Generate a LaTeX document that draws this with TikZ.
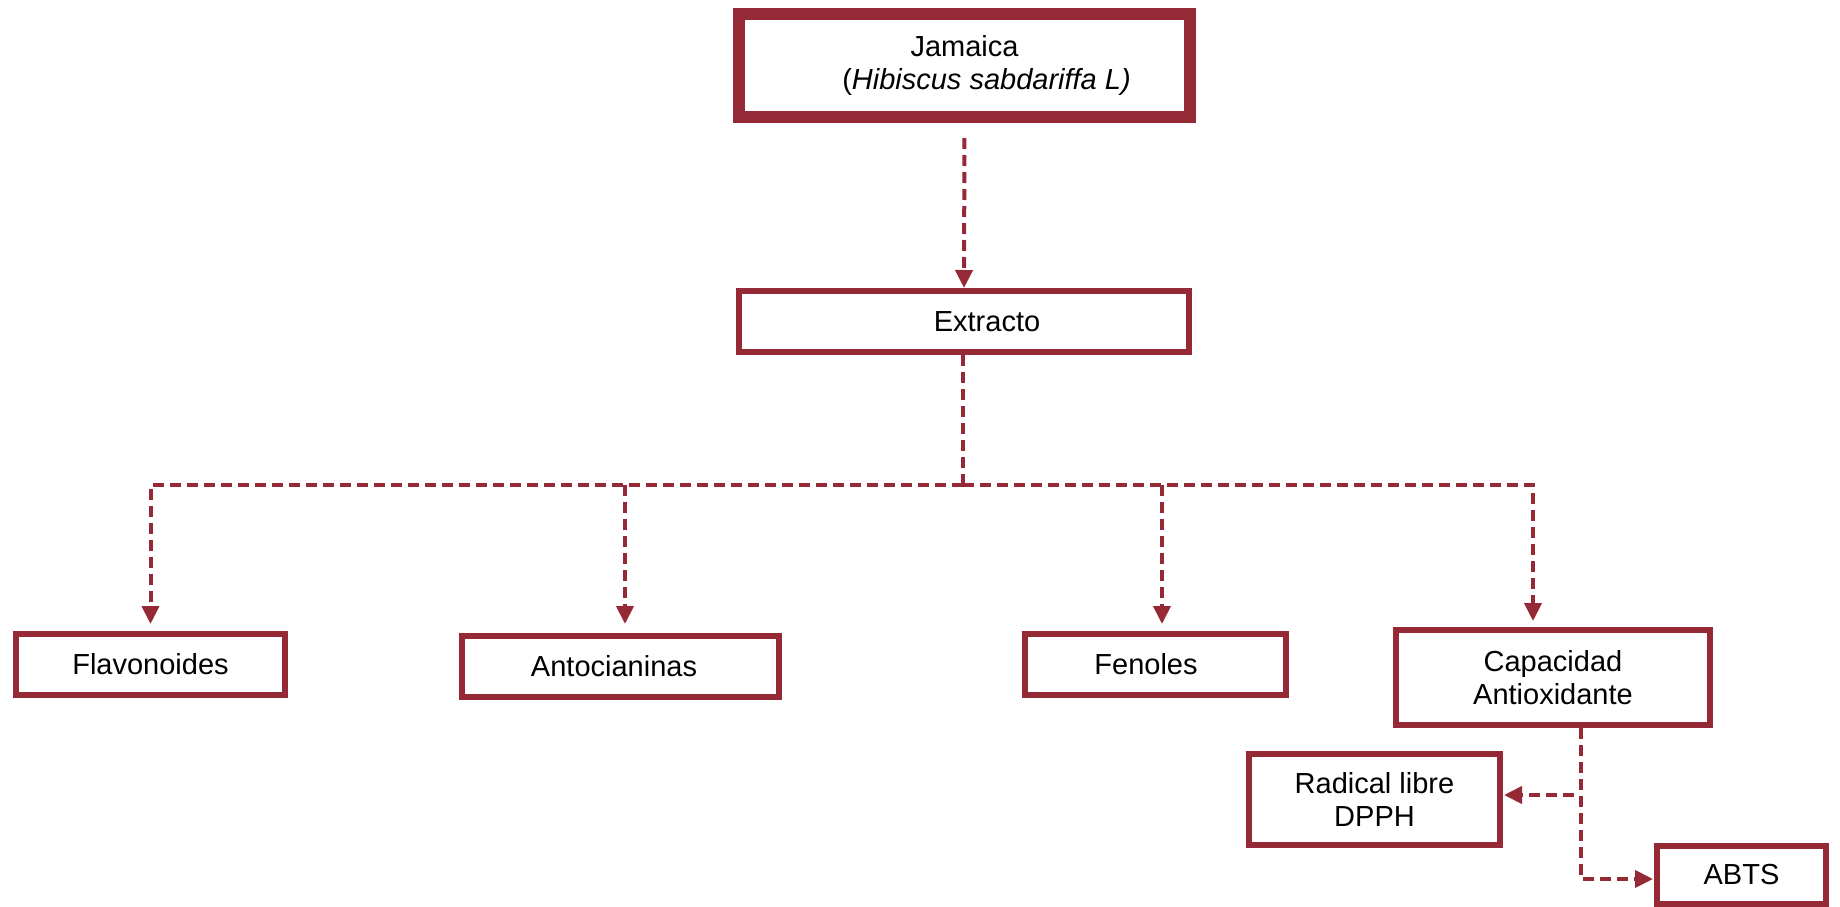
\documentclass[tikz,border=0pt]{standalone}
\usepackage{fontspec}
\setmainfont{Liberation Sans}
\usetikzlibrary{arrows.meta,calc}
\definecolor{wine}{RGB}{149,41,53}
\begin{document}
\begin{tikzpicture}[x=1pt,y=-1pt,
  box/.style={draw=wine,line width=6pt,fill=white,inner sep=0pt,align=center,
    font=\fontsize{29}{33.5}\selectfont},
  conn/.style={draw=wine,line width=4pt,dash pattern=on 11pt off 6pt},
  arr/.style={-{Triangle[length=18pt,width=17pt]}}]
\useasboundingbox (0,0) rectangle (1840,907);

\node[box,line width=12pt,minimum width=451pt,minimum height=103pt] (jam) at (964.5,65.5)
  {Jamaica\\\hspace*{44pt}(\textit{Hibiscus sabdariffa L)}};
\node[box,minimum width=450pt,minimum height=61pt] (ext) at (964,321.5) {\hspace*{46pt}Extracto};
\node[box,minimum width=269pt,minimum height=61pt] (flav) at (150.5,664.5) {Flavonoides};
\node[box,minimum width=317pt,minimum height=61pt] (anto) at (620.5,666.5) {Antocianinas\hspace*{13pt}};
\node[box,minimum width=261pt,minimum height=61pt] (fen) at (1155.5,664.5) {Fenoles\hspace*{19pt}};
\node[box,minimum width=314pt,minimum height=95pt] (cap) at (1553,677.5) {Capacidad\\Antioxidante};
\node[box,minimum width=251pt,minimum height=91pt] (dpph) at (1374.5,799.5) {Radical libre\\DPPH};
\node[box,minimum width=169pt,minimum height=58pt] (abts) at (1741.5,875) {ABTS};

\draw[conn,arr,shorten <=15pt] (jam.south) -- (ext.north);
\draw[conn] ([xshift=-1pt]ext.south) -- ++(0,130) coordinate (hub);
\draw[conn,arr,shorten >=7pt] (hub) -| (flav.north);
\draw[conn,arr,shorten >=6pt] (hub) -| ([xshift=-20pt]cap.north);
\draw[conn,arr,shorten >=9pt] ([xshift=4.5pt]anto.north |- hub) -- ([xshift=4.5pt]anto.north);
\draw[conn,arr,shorten >=7pt] ([xshift=6.5pt]fen.north |- hub) -- ([xshift=6.5pt]fen.north);

\coordinate (v) at ([xshift=28pt]cap.south);
\draw[conn,arr,shorten >=1pt] (v) |- ([yshift=-4pt]abts.west);
\draw[conn,arr,shorten <=7pt,shorten >=1pt] ([yshift=4.5pt]dpph.east -| v) -- ([yshift=4.5pt]dpph.east);
\end{tikzpicture}
\end{document}
